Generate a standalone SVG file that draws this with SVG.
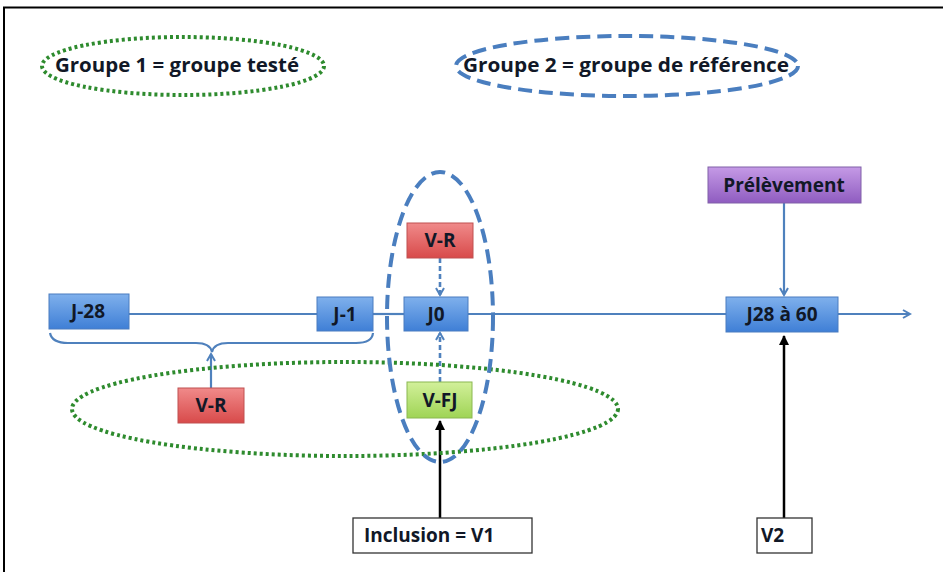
<svg xmlns="http://www.w3.org/2000/svg" width="943" height="572" viewBox="0 0 943 572">
<defs>
<linearGradient id="gBlue" x1="0" y1="0" x2="0" y2="1"><stop offset="0" stop-color="#7fb0ec"/><stop offset="1" stop-color="#3f7fd6"/></linearGradient>
<linearGradient id="gRed" x1="0" y1="0" x2="0" y2="1"><stop offset="0" stop-color="#f08a8a"/><stop offset="1" stop-color="#d84a4a"/></linearGradient>
<linearGradient id="gGreen" x1="0" y1="0" x2="0" y2="1"><stop offset="0" stop-color="#d2f09a"/><stop offset="1" stop-color="#9fd455"/></linearGradient>
<linearGradient id="gPurple" x1="0" y1="0" x2="0" y2="1"><stop offset="0" stop-color="#c59ae6"/><stop offset="1" stop-color="#8f5cc0"/></linearGradient>
<marker id="aBlue" markerWidth="10" markerHeight="10" refX="8" refY="5" orient="auto" markerUnits="userSpaceOnUse"><path d="M1,1 L8,5 L1,9" fill="none" stroke="#4f81bd" stroke-width="2"/></marker>
<marker id="aBlack" markerWidth="10" markerHeight="10" refX="9" refY="5" orient="auto" markerUnits="userSpaceOnUse"><path d="M0,0 L10,5 L0,10 Z" fill="#000"/></marker>
</defs>
<style>
.t{font-family:"Open Sans","Liberation Sans",sans-serif;font-weight:bold;font-size:19px;fill:#111827;text-anchor:middle;dominant-baseline:central}
.s{text-anchor:start}
.bl{fill:url(#gBlue);stroke:#4a7cc0;stroke-width:1}
.rd{fill:url(#gRed);stroke:#c05050;stroke-width:1}
.gr{fill:url(#gGreen);stroke:#8ab850;stroke-width:1}
.pu{fill:url(#gPurple);stroke:#8060a8;stroke-width:1}
.wb{fill:#fff;stroke:#333;stroke-width:1.3}
.line{stroke:#4f81bd;stroke-width:2.2;fill:none}
.dash{stroke:#4f81bd;stroke-width:2.6;fill:none;stroke-dasharray:5,3}
.blk{stroke:#000;stroke-width:2.5;fill:none}
.gdot{fill:none;stroke:#2e8b2e;stroke-width:4;stroke-dasharray:3,3}
.bdash{fill:none;stroke:#4a7ebf;stroke-width:4;stroke-dasharray:14,7}
</style>
<rect width="943" height="572" fill="#fff"/>
<path d="M4,572 V7.5 H943" fill="none" stroke="#000" stroke-width="2"/>

<g id="legend1"><ellipse class="gdot" cx="183" cy="66" rx="141" ry="29" stroke-width="3.5"/><text class="t s" x="55" y="65" textLength="244" lengthAdjust="spacingAndGlyphs">Groupe 1 = groupe testé</text></g>
<g id="legend2"><ellipse class="bdash" cx="627" cy="66" rx="171" ry="30" stroke-width="3"/><text class="t s" x="463" y="65" textLength="326" lengthAdjust="spacingAndGlyphs">Groupe 2 = groupe de référence</text></g>

<g id="connectors">
<line class="line" x1="129" y1="314" x2="317" y2="314"/>
<line class="line" x1="373" y1="314" x2="404" y2="314"/>
<line class="line" x1="468" y1="314" x2="726" y2="314"/>
<line class="line" x1="838" y1="314" x2="910" y2="314" marker-end="url(#aBlue)"/>
<path class="line" d="M50,333 Q52,343 68,343 H196 Q210,343 212,352 Q214,343 228,343 H356 Q372,343 373,333"/>
<line class="line" x1="211" y1="388" x2="211" y2="354" marker-end="url(#aBlue)"/>
<line class="dash" x1="440" y1="258" x2="440" y2="295" marker-end="url(#aBlue)"/>
<line class="dash" x1="440" y1="382" x2="440" y2="333" marker-end="url(#aBlue)"/>
<line class="line" x1="784" y1="203" x2="784" y2="295" marker-end="url(#aBlue)"/>
<line class="blk" x1="440" y1="518" x2="440" y2="421" marker-end="url(#aBlack)"/>
<line class="blk" x1="784" y1="518" x2="784" y2="336" marker-end="url(#aBlack)"/>
</g>

<g id="group1"><ellipse class="gdot" cx="345" cy="409" rx="273" ry="47"/></g>
<g id="group2"><ellipse class="bdash" cx="440" cy="317" rx="53" ry="145"/></g>

<g id="J-28"><rect class="bl" x="49" y="294" width="80" height="35"/><text class="t" x="88" y="311">J-28</text></g>
<g id="J-1"><rect class="bl" x="317" y="297" width="56" height="34"/><text class="t" x="345" y="314">J-1</text></g>
<g id="J0"><rect class="bl" x="404" y="297" width="64" height="34"/><text class="t" x="436" y="314">J0</text></g>
<g id="J28a60"><rect class="bl" x="726" y="297" width="112" height="35"/><text class="t" x="782" y="314">J28 à 60</text></g>
<g id="VR-top"><rect class="rd" x="407" y="223" width="66" height="35"/><text class="t" x="440" y="240">V-R</text></g>
<g id="VR-bottom"><rect class="rd" x="178" y="388" width="66" height="35"/><text class="t" x="211" y="405">V-R</text></g>
<g id="V-FJ"><rect class="gr" x="407" y="382" width="65" height="36"/><text class="t" x="440" y="400">V-FJ</text></g>
<g id="Prelevement"><rect class="pu" x="708" y="167" width="153" height="36"/><text class="t" x="784" y="185">Prélèvement</text></g>
<g id="Inclusion"><rect class="wb" x="353" y="518" width="179" height="35"/><text class="t s" x="364" y="535">Inclusion = V1</text></g>
<g id="V2"><rect class="wb" x="757" y="518" width="55" height="35"/><text class="t s" x="761" y="535">V2</text></g>
</svg>
